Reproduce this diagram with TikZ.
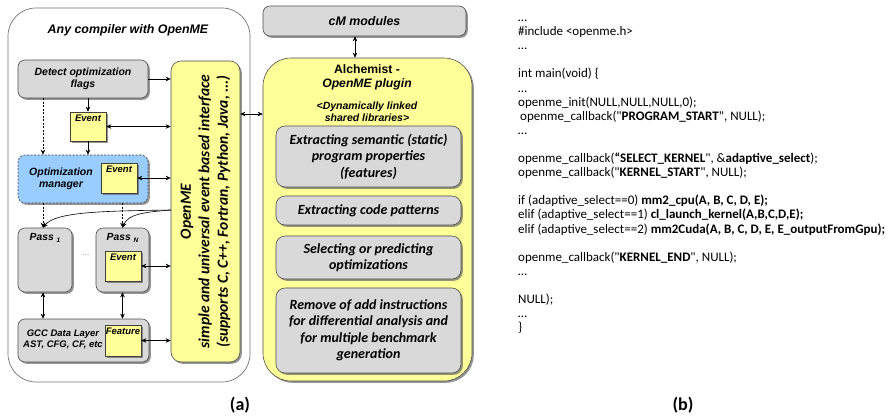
\documentclass[tikz,border=0pt]{standalone}
\usepackage{fontspec}
\setmainfont{Liberation Sans}
\newfontfamily\calfont{Carlito}
\usetikzlibrary{shadows,arrows.meta}
\definecolor{boxgray}{HTML}{D9D9D9}
\definecolor{boxyellow}{HTML}{FFFF99}
\definecolor{boxblue}{HTML}{99CCFF}
\tikzset{
  shadowed/.style={drop shadow={shadow xshift=1.8pt,shadow yshift=-1.8pt,fill=black!60,opacity=0.7}},
  graybox/.style={draw=black!70, fill=boxgray, rounded corners=7pt, line width=0.6pt, shadowed, inner sep=0pt, align=center, font=\bfseries\itshape\fontsize{10.5}{12.5}\selectfont},
  alchbox/.style={draw=black!70, fill=boxgray, rounded corners=9pt, line width=0.6pt, shadowed, inner sep=0pt, align=center, font=\calfont\bfseries\itshape\fontsize{14}{16.5}\selectfont},
  evbox/.style={draw=black!75, fill=boxyellow, line width=0.6pt, shadowed, inner sep=0pt},
  evtext/.style={anchor=north, inner sep=3pt, font=\bfseries\itshape\fontsize{9.5}{11}\selectfont},
  passtext/.style={anchor=north, inner sep=6pt, font=\bfseries\itshape\fontsize{10.3}{12}\selectfont},
  arr/.style={-{Stealth[length=5pt,width=4.5pt]}, line width=0.6pt},
  darr/.style={{Stealth[length=5pt,width=4.5pt]}-{Stealth[length=5pt,width=4.5pt]}, line width=0.6pt},
  dasharr/.style={arr, dash pattern=on 2pt off 1.5pt},
  code/.style={anchor=base west, inner sep=0pt, font=\calfont\fontsize{13}{15}\selectfont},
  lbl/.style={inner sep=0pt, font=\calfont\bfseries\fontsize{18}{20}\selectfont}
}
\begin{document}
\begin{tikzpicture}[x=1pt,y=-1pt]
\useasboundingbox (0,0) rectangle (896,416);
% outer compiler box
\node[draw=black!55, line width=0.7pt, rounded corners=28pt, minimum width=242pt, minimum height=374pt, inner sep=0pt] (outer) at (129,195) {};
\node[font=\bfseries\itshape\fontsize{12.4}{14}\selectfont, inner sep=0pt] (title) at (128,30) {Any compiler with OpenME};
% OpenME interface
\node[draw=black!70, fill=boxyellow, rounded corners=10pt, line width=0.6pt, shadowed, minimum width=69pt, minimum height=301pt, inner sep=0pt] (openme) at (205.5,211.5) {};
\node[rotate=90, align=center, inner sep=0pt, font=\calfont\bfseries\itshape\fontsize{15.5}{18.5}\selectfont] (openmetext) at (openme.center) {OpenME\\simple and universal event based interface\\(supports C, C++, Fortran, Python, Java, ...)};
% left column
\node[graybox, minimum width=130pt, minimum height=38pt] (detect) at (83,79) {Detect optimization\\flags};
\node[evbox, minimum width=36pt, minimum height=29pt, label={[evtext]north:Event}] (ev1) at (88,126.5) {};
\node[draw=black!75, fill=boxblue, rounded corners=7pt, line width=0.6pt, dash pattern=on 2pt off 1.5pt, shadowed, minimum width=130pt, minimum height=48pt, inner sep=0pt] (optm) at (83,179) {};
\node[align=center, inner sep=0pt, font=\bfseries\itshape\fontsize{10.5}{12.5}\selectfont] (optmtext) at (61,179) {Optimization\\manager};
\node[evbox, minimum width=36pt, minimum height=30pt, label={[evtext]north:Event}] (ev2) at (119,178) {};
\node[graybox, minimum width=54pt, minimum height=64pt, label={[passtext]north:Pass \raisebox{-2pt}{\fontsize{6.5}{7}\selectfont 1}}] (pass1) at (45,260) {};
\node[graybox, minimum width=53pt, minimum height=64pt, label={[passtext]north:Pass \raisebox{-2pt}{\fontsize{6.5}{7}\selectfont N}}] (passN) at (122.5,260) {};
\node[evbox, minimum width=36pt, minimum height=30pt, label={[evtext]north:Event}] (ev3) at (123,266) {};
\node[text=black!50, inner sep=0pt, font=\fontsize{8}{9}\selectfont] (dots) at (86,255) {...};
\node[graybox, minimum width=131pt, minimum height=43pt] (gcc) at (83.5,340.5) {};
\node[align=center, inner sep=0pt, font=\bfseries\itshape\fontsize{9.5}{11}\selectfont] (gcctext) at (63,339) {GCC Data Layer\\AST, CFG, CF, etc};
\node[evbox, minimum width=36pt, minimum height=31pt, label={[evtext]north:Feature}] (feat) at (123,340.5) {};
% right part
\node[graybox, minimum width=203pt, minimum height=30pt, font=\bfseries\itshape\fontsize{12.4}{14}\selectfont] (cm) at (364.5,21) {cM modules};
\node[draw=black!70, fill=boxyellow, rounded corners=28pt, line width=0.6pt, shadowed, minimum width=209pt, minimum height=323pt, inner sep=0pt] (alch) at (367.5,219.5) {};
\node[align=center, inner sep=0pt, font=\fontsize{12.2}{14}\selectfont] (alchtitle) at (367,77) {\textbf{Alchemist -}\\\textbf{\textit{OpenME plugin}}};
\node[align=center, inner sep=0pt, font=\bfseries\itshape\fontsize{10.5}{12}\selectfont] (alchsub) at (367,112) {<Dynamically linked\\shared libraries>};
\node[alchbox, minimum width=185pt, minimum height=61pt] (b1) at (368.5,156.5) {Extracting semantic (static)\\program properties\\(features)};
\node[alchbox, minimum width=185pt, minimum height=29pt] (b2) at (368.5,210.5) {Extracting code patterns};
\node[alchbox, minimum width=185pt, minimum height=43pt] (b3) at (368.5,257.5) {Selecting or predicting\\optimizations};
\node[alchbox, minimum width=185pt, minimum height=85pt] (b4) at (368.5,330.5) {Remove of add instructions\\for differential analysis and\\for multiple benchmark\\generation};
% helper coordinates
\coordinate (cx1) at (43,0);
\coordinate (ya) at (0,114);
\coordinate (c0) at (171,210);
\coordinate (cmx) at (355,0);
% connectors
\draw[arr] (detect.east) -- (openme.west |- detect.east);
\draw[darr] (ev1.east) -- (openme.west |- ev1.east);
\draw[darr] (ev2.east) -- (openme.west |- ev2.east);
\draw[darr] (ev3.east) -- (openme.west |- ev3.east);
\draw[darr] (feat.east) -- (openme.west |- feat.east);
\draw[arr] (ev1.north |- detect.south) -- (ev1.north);
\draw[arr] (ev1.south) -- (ev1.south |- optm.north);
\draw[dasharr] (cx1 |- detect.south) -- (cx1 |- optm.north);
\draw[dasharr] (cx1 |- optm.south) -- (cx1 |- pass1.north);
\draw[dasharr] (passN.north |- optm.south) -- (passN.north);
\draw[arr] (c0) .. controls (100,211) and (55,212) .. (cx1 |- pass1.north);
\draw[arr] (c0) .. controls (145,212) and (128,214) .. (passN.north);
\draw[darr] (cx1 |- pass1.south) -- (cx1 |- gcc.north);
\draw[darr] (passN.south) -- (passN.south |- gcc.north);
\draw[darr] (cmx |- cm.south) -- (cmx |- alch.north);
\draw[darr] (openme.east |- ya) -- (alch.west |- ya);
% code listing
\node[code] (l0) at (518,21.5) {…};
\node[code] (l1) at (518,35.6) {\#include <openme.h>};
\node[code] (l2) at (518,49.7) {…};
\node[code] (l4) at (518,77.9) {int main(void) \{};
\node[code] (l5) at (518,92) {…};
\node[code] (l6) at (518,106.1) {openme\_init(NULL,NULL,NULL,0);};
\node[code] (l7) at (520,120.2) {openme\_callback("\textbf{PROGRAM\_START}", NULL);};
\node[code] (l8) at (518,134.3) {…};
\node[code] (l10) at (518,162.5) {openme\_callback(\textbf{“SELECT\_KERNEL}", \&\textbf{adaptive\_select});};
\node[code] (l11) at (518,176.6) {openme\_callback("\textbf{KERNEL\_START}", NULL);};
\node[code] (l13) at (518,204.8) {if (adaptive\_select==0) \textbf{mm2\_cpu(A, B, C, D, E);}};
\node[code] (l14) at (518,218.9) {elif (adaptive\_select==1) \textbf{cl\_launch\_kernel(A,B,C,D,E);}};
\node[code] (l15) at (518,233) {elif (adaptive\_select==2) \textbf{mm2Cuda(A, B, C, D, E, E\_outputFromGpu);}};
\node[code] (l17) at (518,261.2) {openme\_callback("\textbf{KERNEL\_END}", NULL);};
\node[code] (l18) at (518,275.3) {…};
\node[code] (l20) at (518,303.5) {NULL);};
\node[code] (l21) at (518,317.6) {…};
\node[code] (l22) at (518,331.7) {\}};
% labels
\node[lbl] (la) at (240,405) {(a)};
\node[lbl] (lb) at (683,405) {(b)};
\end{tikzpicture}
\end{document}
